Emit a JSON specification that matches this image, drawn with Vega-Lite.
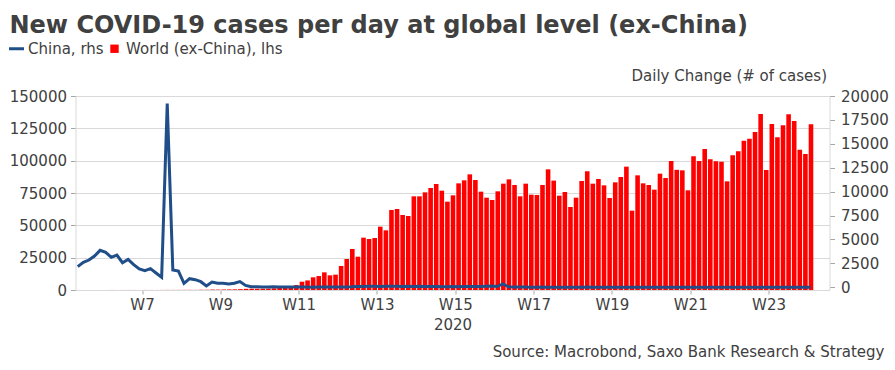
{
  "$schema": "https://vega.github.io/schema/vega-lite/v6.json",
  "width": 754,
  "height": 194,
  "autosize": "none",
  "padding": {"left": 75.5, "top": 96, "right": 65.5, "bottom": 80},
  "background": "white",
  "config": {
    "font": "DejaVu Sans",
    "view": {"stroke": null},
    "axis": {
      "labelFont": "DejaVu Sans",
      "labelFontSize": 15,
      "labelColor": "#404040",
      "titleFont": "DejaVu Sans",
      "titleFontSize": 15,
      "titleFontWeight": "normal",
      "titleColor": "#404040",
      "tickColor": "#a6a6a6",
      "domainColor": "#d9d9d9",
      "gridColor": "#d9d9d9"
    }
  },
  "title": {
    "text": "New COVID-19 cases per day at global level (ex-China)",
    "anchor": "start",
    "frame": "group",
    "font": "DejaVu Sans",
    "fontSize": 24,
    "fontWeight": "bold",
    "color": "#404040",
    "dx": -66,
    "dy": -3,
    "offset": 0
  },
  "data": {
    "values": [
      {"d": "2020-01-29", "w": 10, "c": 2156},
      {"d": "2020-01-30", "w": 15, "c": 2609},
      {"d": "2020-01-31", "w": 20, "c": 2853},
      {"d": "2020-02-01", "w": 15, "c": 3271},
      {"d": "2020-02-02", "w": 20, "c": 3863},
      {"d": "2020-02-03", "w": 15, "c": 3654},
      {"d": "2020-02-04", "w": 25, "c": 3132},
      {"d": "2020-02-05", "w": 20, "c": 3375},
      {"d": "2020-02-06", "w": 30, "c": 2574},
      {"d": "2020-02-07", "w": 40, "c": 2923},
      {"d": "2020-02-08", "w": 30, "c": 2365},
      {"d": "2020-02-09", "w": 20, "c": 1912},
      {"d": "2020-02-10", "w": 60, "c": 1738},
      {"d": "2020-02-11", "w": 40, "c": 1947},
      {"d": "2020-02-12", "w": 30, "c": 1494},
      {"d": "2020-02-13", "w": 50, "c": 1042},
      {"d": "2020-02-14", "w": 80, "c": 19200},
      {"d": "2020-02-15", "w": 70, "c": 1808},
      {"d": "2020-02-16", "w": 90, "c": 1703},
      {"d": "2020-02-17", "w": 100, "c": 415},
      {"d": "2020-02-18", "w": 120, "c": 902},
      {"d": "2020-02-19", "w": 80, "c": 800},
      {"d": "2020-02-20", "w": 150, "c": 585},
      {"d": "2020-02-21", "w": 200, "c": 150},
      {"d": "2020-02-22", "w": 350, "c": 550},
      {"d": "2020-02-23", "w": 300, "c": 420},
      {"d": "2020-02-24", "w": 400, "c": 420},
      {"d": "2020-02-25", "w": 450, "c": 350},
      {"d": "2020-02-26", "w": 500, "c": 420},
      {"d": "2020-02-27", "w": 650, "c": 600},
      {"d": "2020-02-28", "w": 900, "c": 200},
      {"d": "2020-02-29", "w": 1000, "c": 60},
      {"d": "2020-03-01", "w": 1000, "c": 50},
      {"d": "2020-03-02", "w": 1000, "c": 40},
      {"d": "2020-03-03", "w": 1100, "c": 30},
      {"d": "2020-03-04", "w": 1300, "c": 45},
      {"d": "2020-03-05", "w": 2000, "c": 30},
      {"d": "2020-03-06", "w": 2600, "c": 25},
      {"d": "2020-03-07", "w": 3000, "c": 40},
      {"d": "2020-03-08", "w": 3800, "c": 20},
      {"d": "2020-03-09", "w": 6400, "c": 20},
      {"d": "2020-03-10", "w": 7400, "c": 25},
      {"d": "2020-03-11", "w": 9800, "c": 15},
      {"d": "2020-03-12", "w": 10800, "c": 20},
      {"d": "2020-03-13", "w": 13650, "c": 20},
      {"d": "2020-03-14", "w": 11350, "c": 25},
      {"d": "2020-03-15", "w": 11860, "c": 20},
      {"d": "2020-03-16", "w": 18560, "c": 30},
      {"d": "2020-03-17", "w": 23970, "c": 40},
      {"d": "2020-03-18", "w": 31700, "c": 50},
      {"d": "2020-03-19", "w": 25770, "c": 80},
      {"d": "2020-03-20", "w": 40460, "c": 90},
      {"d": "2020-03-21", "w": 39430, "c": 100},
      {"d": "2020-03-22", "w": 40200, "c": 110},
      {"d": "2020-03-23", "w": 48970, "c": 90},
      {"d": "2020-03-24", "w": 46140, "c": 100},
      {"d": "2020-03-25", "w": 61860, "c": 120},
      {"d": "2020-03-26", "w": 62630, "c": 110},
      {"d": "2020-03-27", "w": 57990, "c": 90},
      {"d": "2020-03-28", "w": 57220, "c": 100},
      {"d": "2020-03-29", "w": 72420, "c": 80},
      {"d": "2020-03-30", "w": 72420, "c": 110},
      {"d": "2020-03-31", "w": 75510, "c": 90},
      {"d": "2020-04-01", "w": 78870, "c": 80},
      {"d": "2020-04-02", "w": 81960, "c": 90},
      {"d": "2020-04-03", "w": 76800, "c": 60},
      {"d": "2020-04-04", "w": 68300, "c": 70},
      {"d": "2020-04-05", "w": 73200, "c": 80},
      {"d": "2020-04-06", "w": 82470, "c": 70},
      {"d": "2020-04-07", "w": 84790, "c": 90},
      {"d": "2020-04-08", "w": 89430, "c": 80},
      {"d": "2020-04-09", "w": 85050, "c": 90},
      {"d": "2020-04-10", "w": 76030, "c": 80},
      {"d": "2020-04-11", "w": 71390, "c": 110},
      {"d": "2020-04-12", "w": 69590, "c": 130},
      {"d": "2020-04-13", "w": 76290, "c": 80},
      {"d": "2020-04-14", "w": 82220, "c": 350},
      {"d": "2020-04-15", "w": 85570, "c": 50},
      {"d": "2020-04-16", "w": 81190, "c": 30},
      {"d": "2020-04-17", "w": 72420, "c": 25},
      {"d": "2020-04-18", "w": 82220, "c": 20},
      {"d": "2020-04-19", "w": 73710, "c": 15},
      {"d": "2020-04-20", "w": 73450, "c": 12},
      {"d": "2020-04-21", "w": 81190, "c": 30},
      {"d": "2020-04-22", "w": 93300, "c": 10},
      {"d": "2020-04-23", "w": 84600, "c": 10},
      {"d": "2020-04-24", "w": 72940, "c": 6},
      {"d": "2020-04-25", "w": 75770, "c": 11},
      {"d": "2020-04-26", "w": 64180, "c": 3},
      {"d": "2020-04-27", "w": 71390, "c": 3},
      {"d": "2020-04-28", "w": 84280, "c": 6},
      {"d": "2020-04-29", "w": 91750, "c": 22},
      {"d": "2020-04-30", "w": 82220, "c": 4},
      {"d": "2020-05-01", "w": 85830, "c": 12},
      {"d": "2020-05-02", "w": 80930, "c": 2},
      {"d": "2020-05-03", "w": 71130, "c": 2},
      {"d": "2020-05-04", "w": 83250, "c": 3},
      {"d": "2020-05-05", "w": 87370, "c": 1},
      {"d": "2020-05-06", "w": 95360, "c": 2},
      {"d": "2020-05-07", "w": 61340, "c": 4},
      {"d": "2020-05-08", "w": 88660, "c": 1},
      {"d": "2020-05-09", "w": 82470, "c": 14},
      {"d": "2020-05-10", "w": 81190, "c": 17},
      {"d": "2020-05-11", "w": 77580, "c": 1},
      {"d": "2020-05-12", "w": 89950, "c": 7},
      {"d": "2020-05-13", "w": 86600, "c": 3},
      {"d": "2020-05-14", "w": 99740, "c": 4},
      {"d": "2020-05-15", "w": 92900, "c": 5},
      {"d": "2020-05-16", "w": 92530, "c": 5},
      {"d": "2020-05-17", "w": 77060, "c": 7},
      {"d": "2020-05-18", "w": 103350, "c": 6},
      {"d": "2020-05-19", "w": 99740, "c": 6},
      {"d": "2020-05-20", "w": 109020, "c": 5},
      {"d": "2020-05-21", "w": 101030, "c": 4},
      {"d": "2020-05-22", "w": 99480, "c": 3},
      {"d": "2020-05-23", "w": 99230, "c": 11},
      {"d": "2020-05-24", "w": 84020, "c": 3},
      {"d": "2020-05-25", "w": 104120, "c": 7},
      {"d": "2020-05-26", "w": 107220, "c": 1},
      {"d": "2020-05-27", "w": 115470, "c": 1},
      {"d": "2020-05-28", "w": 117010, "c": 2},
      {"d": "2020-05-29", "w": 122170, "c": 4},
      {"d": "2020-05-30", "w": 136080, "c": 4},
      {"d": "2020-05-31", "w": 92780, "c": 2},
      {"d": "2020-06-01", "w": 128350, "c": 16},
      {"d": "2020-06-02", "w": 118040, "c": 5},
      {"d": "2020-06-03", "w": 127320, "c": 5},
      {"d": "2020-06-04", "w": 135830, "c": 3},
      {"d": "2020-06-05", "w": 130670, "c": 5},
      {"d": "2020-06-06", "w": 108510, "c": 4},
      {"d": "2020-06-07", "w": 105160, "c": 5},
      {"d": "2020-06-08", "w": 128090, "c": 3}
    ]
  },
  "layer": [
    {
      "mark": {"type": "bar", "timeUnitBandSize": 0.7},
      "encoding": {
        "x": {
          "field": "d",
          "type": "temporal",
          "timeUnit": "utcyearmonthdate",
          "scale": {
            "domain": [
              {"year": 2020, "month": 1, "date": 29, "hours": 2, "minutes": 24, "utc": true},
              {"year": 2020, "month": 6, "date": 11, "hours": 21, "minutes": 36, "utc": true}
            ]
          },
          "axis": {
            "values": [
              {"year": 2020, "month": 2, "date": 10, "utc": true},
              {"year": 2020, "month": 2, "date": 24, "utc": true},
              {"year": 2020, "month": 3, "date": 9, "utc": true},
              {"year": 2020, "month": 3, "date": 23, "utc": true},
              {"year": 2020, "month": 4, "date": 6, "utc": true},
              {"year": 2020, "month": 4, "date": 20, "utc": true},
              {"year": 2020, "month": 5, "date": 4, "utc": true},
              {"year": 2020, "month": 5, "date": 18, "utc": true},
              {"year": 2020, "month": 6, "date": 1, "utc": true}
            ],
            "labelExpr": "'W' + utcFormat(datum.value, '%-V')",
            "title": "2020",
            "titlePadding": 5,
            "tickSize": 4,
            "labelPadding": 3,
            "labelOverlap": false,
            "labelFlush": false,
            "grid": false
          }
        },
        "y": {
          "field": "w",
          "type": "quantitative",
          "scale": {"domain": [0, 150000], "nice": false},
          "axis": {
            "values": [0, 25000, 50000, 75000, 100000, 125000, 150000],
            "format": "d",
            "tickSize": 5,
            "labelPadding": 4,
            "title": "Source: Macrobond, Saxo Bank Research & Strategy",
            "titleAngle": 0,
            "titleAlign": "right",
            "titleBaseline": "alphabetic",
            "titleX": 808.5,
            "titleY": 260
          }
        },
        "color": {
          "datum": "World (ex-China), lhs",
          "scale": {
            "domain": ["China, rhs", "World (ex-China), lhs"],
            "range": ["#1f4e89", "#ff0000"]
          },
          "legend": {
            "orient": "none",
            "legendX": -66.5,
            "legendY": -55,
            "direction": "horizontal",
            "title": null,
            "labelFont": "DejaVu Sans",
            "labelFontSize": 15,
            "labelColor": "#404040",
            "symbolSize": 225,
            "labelOffset": 4,
            "columnPadding": 3,
            "padding": 0,
            "encode": {
              "symbols": {
                "update": {
                  "shape": {"signal": "datum.label === 'China, rhs' ? 'stroke' : 'square'"},
                  "size": {"signal": "datum.label === 'China, rhs' ? 225 : 70"},
                  "strokeWidth": {"signal": "datum.label === 'China, rhs' ? 3 : 0"},
                  "fill": {"scale": "color", "field": "value"},
                  "stroke": {"scale": "color", "field": "value"},
                  "opacity": {"value": 1}
                }
              }
            }
          }
        }
      }
    },
    {
      "mark": {"type": "line", "strokeWidth": 3},
      "encoding": {
        "x": {"field": "d", "type": "temporal", "timeUnit": "utcyearmonthdate", "bandPosition": 0.5},
        "y": {
          "field": "c",
          "type": "quantitative",
          "scale": {"domain": [-282, 20000], "nice": false},
          "axis": {
            "orient": "right",
            "values": [0, 2500, 5000, 7500, 10000, 12500, 15000, 17500, 20000],
            "format": "d",
            "tickSize": 5,
            "labelPadding": 6,
            "title": "Daily Change (# of cases)",
            "titleAngle": 0,
            "titleAlign": "right",
            "titleBaseline": "alphabetic",
            "titleX": -3,
            "titleY": -16
          }
        },
        "color": {"datum": "China, rhs"}
      }
    }
  ],
  "resolve": {"scale": {"y": "independent"}}
}
